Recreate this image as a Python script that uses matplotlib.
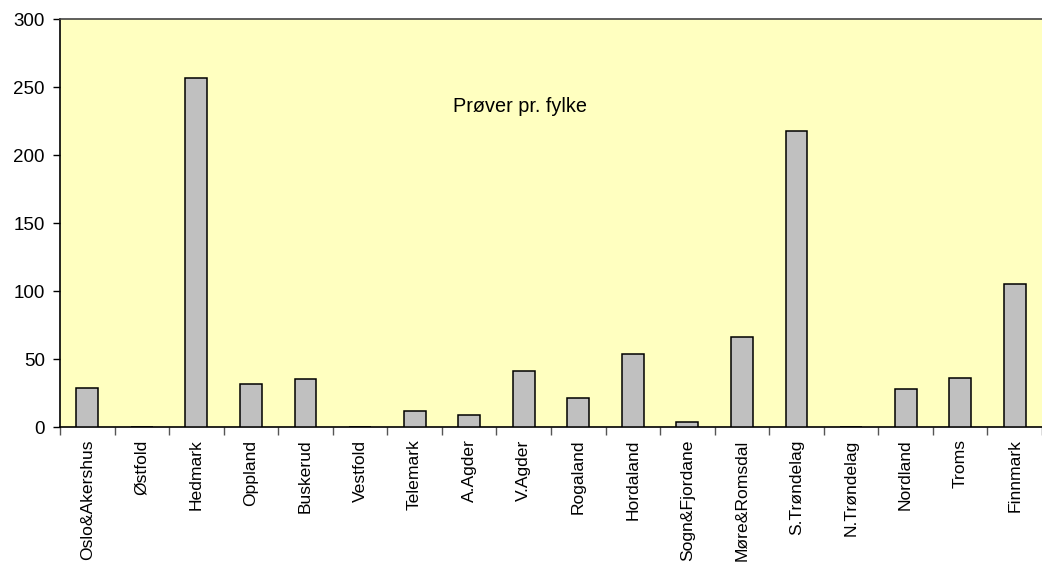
import matplotlib
matplotlib.use("Agg")
import matplotlib.pyplot as plt
import numpy as np

plt.rcParams['font.family'] = ['Liberation Sans', 'DejaVu Sans']

categories = ["Oslo&Akershus", "Østfold", "Hedmark", "Oppland", "Buskerud", "Vestfold",
              "Telemark", "A.Agder", "V.Agder", "Rogaland", "Hordaland", "Sogn&Fjordane",
              "Møre&Romsdal", "S.Trøndelag", "N.Trøndelag", "Nordland", "Troms", "Finnmark"]
values = [29, 0, 257, 32, 35, 0, 12, 9, 41, 21, 54, 4, 66, 218, 0, 28, 36, 105]
yticks = [0, 50, 100, 150, 200, 250, 300]

fig = plt.figure(figsize=(10.42, 5.65), dpi=100)
ax = fig.add_axes([60/1042, 1 - 427/565, 1 - 60/1042, (427 - 19.3)/565])
ax.set_facecolor("#FFFFC0")

x = np.arange(len(categories))
ax.bar(x, values, width=0.4, color="#C0C0C0", edgecolor="black", linewidth=1.1, zorder=3)

ax.set_xlim(-0.5, 17.42)
ax.set_ylim(0, 300)
ax.set_yticks(yticks)
ax.set_yticklabels([str(v) for v in yticks], fontsize=13.5)
ax.tick_params(axis='y', direction='out', length=5, width=1, pad=6)

ax.set_xticks(x)
ax.set_xticklabels(categories, rotation=90, fontsize=12.6)
ax.tick_params(axis='x', which='major', length=0, pad=9)
ax.set_xticks(np.arange(-0.5, 18, 1), minor=True)
ax.tick_params(axis='x', which='minor', direction='out', length=5.5, width=1, color="#555555")

for s in ['left', 'bottom']:
    ax.spines[s].set_color('black')
    ax.spines[s].set_linewidth(1.2)
ax.spines['top'].set_color('#444444')
ax.spines['top'].set_linewidth(1.2)
ax.spines['right'].set_visible(False)

ax.text(7.93, 235.5, "Prøver pr. fylke", fontsize=14.3, ha='center', va='center')

fig.savefig("out.png", dpi=100)
